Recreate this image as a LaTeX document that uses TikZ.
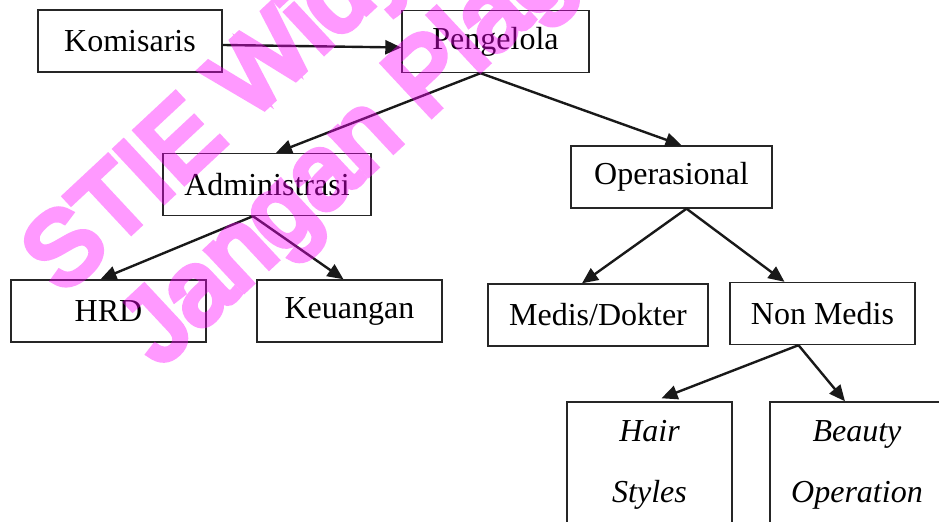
\documentclass[tikz,border=0pt]{standalone}
\usepackage{fontspec}
\setmainfont{Liberation Serif}
\newfontfamily\wmfont{Liberation Sans}[FakeBold=7]
\usetikzlibrary{arrows.meta}
\definecolor{wmpink}{RGB}{255,0,255}
\tikzset{
    orgbox/.style={draw=black!85,line width=0.7pt,minimum width=#1,minimum height=31pt,inner sep=0pt,font=\fontsize{16}{19}\selectfont},
    tallbox/.style={orgbox=#1,minimum height=63pt,align=center,font=\itshape\fontsize{16}{30.5}\selectfont},
    conn/.style={line width=1.2pt,black!90,-{Triangle[length=8pt,width=7pt]}},
    wmtext/.style={text=wmpink,inner sep=0pt,rotate=43,anchor=base west,font=\wmfont\fontsize{51}{55}\selectfont}
}
\begin{document}
\begin{tikzpicture}[x=0.5pt,y=-0.5pt]
            \clip (0,0) rectangle (939,522);
            \node[orgbox=92pt] (kom) at (130,41) {Komisaris};
            \node[orgbox=93.5pt] (peng) at (495.5,41.5) {Pengelola};
            \node[orgbox=104pt] (adm) at (267,184.5) {Administrasi};
            \node[orgbox=100.5pt] (ops) at (671.5,177) {Operasional};
            \node[orgbox=97.5pt] (hrd) at (108.5,311) {HRD};
            \node[orgbox=92.5pt] (keu) at (349.5,311) {Keuangan};
            \node[orgbox=110pt] (med) at (598,315) {Medis/Dokter};
            \node[orgbox=92.5pt] (nonmed) at (822.5,313.5) {Non Medis};
            \node[tallbox=82.5pt] (hair) at (649.5,465) {Hair\\Styles};
            \node[tallbox=87pt] (beauty) at (857,465) {Beauty\\Operation};
            \draw[conn] ([yshift=-2pt]kom.east) -- ([yshift=-3pt]peng.west);
            \draw[conn] ([xshift=-7.5pt]peng.south) -- ([xshift=4.5pt]adm.north);
            \draw[conn] ([xshift=-7.5pt]peng.south) -- ([xshift=5pt]ops.north);
            \draw[conn] ([xshift=-7pt]adm.south) -- ([xshift=-4pt]hrd.north);
            \draw[conn] ([xshift=-7pt]adm.south) -- ([xshift=-3pt]keu.north);
            \draw[conn] ([xshift=7.5pt]ops.south) -- ([xshift=-8pt]med.north);
            \draw[conn] ([xshift=7.5pt]ops.south) -- ([xshift=-19pt]nonmed.north);
            \draw[conn] ([xshift=-12pt]nonmed.south) -- ([xshift=6pt,yshift=1.5pt]hair.north);
            \draw[conn] ([xshift=-12pt]nonmed.south) -- ([xshift=-6pt]beauty.north);
            \begin{scope}[opacity=0.4,transparency group]
            \node[wmtext] (wm1) at (62,296) {STIE Widya Wiwaha};
            \node[wmtext] (wm2) at (160,368) {Jangan Plagiat};
            \end{scope}
\end{tikzpicture}
\end{document}
